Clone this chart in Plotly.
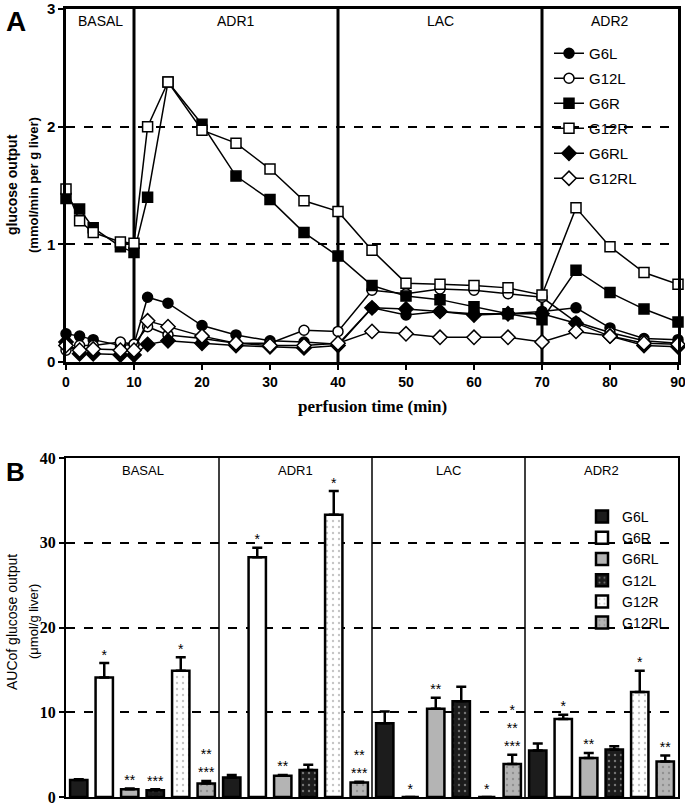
import plotly.graph_objects as go

# ---------------- Panel A data ----------------
times = [0, 2, 4, 8, 10, 12, 15, 20, 25, 30, 35, 40, 45, 50, 55, 60, 65, 70, 75, 80, 85, 90]
G6L = [0.24, 0.22, 0.19, 0.14, 0.15, 0.55, 0.50, 0.31, 0.23, 0.18, 0.17, 0.15, 0.46, 0.40, 0.43, 0.41, 0.41, 0.43, 0.46, 0.29, 0.20, 0.19]
G12L = [0.10, 0.14, 0.14, 0.17, 0.15, 0.30, 0.23, 0.20, 0.16, 0.16, 0.27, 0.26, 0.61, 0.58, 0.62, 0.61, 0.58, 0.55, 0.34, 0.25, 0.18, 0.16]
G6R = [1.39, 1.30, 1.14, 0.98, 0.93, 1.40, 2.38, 2.02, 1.58, 1.38, 1.10, 0.90, 0.65, 0.56, 0.53, 0.47, 0.41, 0.36, 0.78, 0.59, 0.45, 0.34]
G12R = [1.47, 1.20, 1.10, 1.02, 1.01, 2.00, 2.38, 1.97, 1.86, 1.64, 1.37, 1.28, 0.95, 0.67, 0.66, 0.65, 0.63, 0.57, 1.31, 0.98, 0.76, 0.66]
G6RL = [0.17, 0.07, 0.07, 0.06, 0.06, 0.15, 0.18, 0.16, 0.14, 0.13, 0.12, 0.14, 0.46, 0.45, 0.43, 0.40, 0.41, 0.41, 0.33, 0.22, 0.14, 0.13]
G12RL = [0.14, 0.10, 0.11, 0.10, 0.10, 0.35, 0.30, 0.22, 0.16, 0.14, 0.14, 0.16, 0.26, 0.24, 0.21, 0.21, 0.21, 0.17, 0.26, 0.22, 0.16, 0.15]
phase_bounds = [10, 40, 70]
phase_names = ["BASAL", "ADR1", "LAC", "ADR2"]
phase_centers = [5, 25, 55, 80]
x_ticks_A = [0, 10, 20, 30, 40, 50, 60, 70, 80, 90]
y_ticks_A = [0, 1, 2, 3]

# ---------------- Panel B data ----------------
sections = ["BASAL", "ADR1", "LAC", "ADR2"]
groups_B = ["G6L", "G6R", "G6RL", "G12L", "G12R", "G12RL"]
auc_G6L = [2.0, 2.3, 8.7, 5.5]
err_G6L = [0.1, 0.3, 1.4, 0.8]
auc_G6R = [14.1, 28.3, 0, 9.2]
err_G6R = [1.7, 1.1, None, 0.5]
auc_G6RL = [0.9, 2.5, 10.4, 4.6]
err_G6RL = [0.1, 0.1, 1.3, 0.6]
auc_G12L = [0.8, 3.2, 11.3, 5.6]
err_G12L = [0.1, 0.6, 1.7, 0.4]
auc_G12R = [14.9, 33.3, 0, 12.4]
err_G12R = [1.6, 2.8, None, 2.5]
auc_G12RL = [1.6, 1.7, 3.9, 4.2]
err_G12RL = [0.3, 0.1, 1.1, 0.7]
stars_G6L = ["", "", "", ""]
stars_G6R = ["*", "*", "*", "*"]
stars_G6RL = ["**", "**", "**", "**"]
stars_G12L = ["***", "", "", ""]
stars_G12R = ["*", "*", "*", "*"]
stars_G12RL = ["**<br>***", "**<br>***", "*<br>**<br>***", "**"]
y_ticks_B = [0, 10, 20, 30, 40]

SANS = "Liberation Sans"
SERIF = "Liberation Serif"

fig = go.Figure()

# ---------- Panel A traces ----------
series_A = [
    ("G6L", G6L, "circle", "black"),
    ("G12L", G12L, "circle", "white"),
    ("G6R", G6R, "square", "black"),
    ("G12R", G12R, "square", "white"),
    ("G6RL", G6RL, "diamond", "black"),
    ("G12RL", G12RL, "diamond", "white"),
]
for name, vals, sym, fill in series_A:
    fig.add_trace(go.Scatter(
        x=times, y=vals, name=name, mode="lines+markers", legendgroup=name,
        line=dict(color="black", width=1.5),
        marker=dict(symbol=sym, size=10 if sym != "diamond" else 11, color=fill,
                    line=dict(color="black", width=1.5)),
        cliponaxis=False, xaxis="x", yaxis="y", legend="legend",
    ))

# ---------- Panel B traces ----------
bar_specs = [
    ("G6L", auc_G6L, err_G6L, stars_G6L, "#1c1c1c", None),
    ("G6R", auc_G6R, err_G6R, stars_G6R, "white", None),
    ("G6RL", auc_G6RL, err_G6RL, stars_G6RL, "#b4b4b4", None),
    ("G12L", auc_G12L, err_G12L, stars_G12L, "#1c1c1c", "#d0d0d0"),
    ("G12R", auc_G12R, err_G12R, stars_G12R, "white", "#8a8a8a"),
    ("G12RL", auc_G12RL, err_G12RL, stars_G12RL, "#b4b4b4", "#6a6a6a"),
]
ng = len(groups_B)
for gi, (name, vals, errs, stars, fill, dotc) in enumerate(bar_specs):
    xs = [si * ng + gi for si in range(len(sections))]
    pattern = dict(shape="")
    if dotc is not None:
        pattern = dict(shape=".", fgcolor=dotc, bgcolor=fill, size=6, solidity=0.12)
    fig.add_trace(go.Bar(
        x=xs, y=vals, name=name, width=0.68,
        marker=dict(color=fill, line=dict(color="black", width=2.5), pattern=pattern),
        error_y=dict(type="data", symmetric=False, array=errs,
                     arrayminus=[0] * len(vals), color="black", thickness=2.5, width=5),
        xaxis="x2", yaxis="y2", legend="legend2",
    ))
    star_y = [v + (e if e is not None else 0) for v, e in zip(vals, errs)]
    fig.add_trace(go.Scatter(
        x=xs, y=star_y, text=stars, mode="text", textposition="top center",
        textfont=dict(family=SANS, size=14, color="black"),
        showlegend=False, cliponaxis=False, xaxis="x2", yaxis="y2", hoverinfo="skip",
    ))

# ---------- Layout ----------
L, R, T, B = 66, 7, 9, 10
W, H = 685, 807
ph = H - T - B


def fy(py):
    return (H - B - py) / ph


def fx(px):
    return (px - L) / (W - L - R)


dom_A = [fy(362), 1.0]
dom_B = [0.0, fy(458)]

shapes = []
for b in phase_bounds:
    shapes.append(dict(type="line", xref="x", yref="y", x0=b, x1=b, y0=0, y1=3,
                       line=dict(color="black", width=3), layer="below"))
for k in range(1, len(sections)):
    xb = k * ng - 0.5
    shapes.append(dict(type="line", xref="x2", yref="y2", x0=xb, x1=xb, y0=0, y1=40,
                       line=dict(color="black", width=1.5), layer="below"))


def ann(text, x, y, size, family=SANS, xref="paper", angle=0):
    return dict(text=text, x=x, y=y, xref=xref, yref="paper", showarrow=False,
                xanchor="center", yanchor="middle", textangle=angle,
                font=dict(family=family, size=size, color="black"))


annotations = []
for nm, c in zip(phase_names, phase_centers):
    annotations.append(ann(nm, c, fy(21), 14, xref="x"))
for si, nm in enumerate(sections):
    annotations.append(ann(nm, si * ng + 2.5, fy(470), 13, xref="x2"))
annotations += [
    ann("<b>A</b>", fx(16), fy(21), 28),
    ann("<b>B</b>", fx(15), fy(472), 26),
    ann("<b>glucose output</b>", fx(12), fy(185), 14, angle=-90),
    ann("<b>(mmol/min per g liver)</b>", fx(33), fy(185), 13, angle=-90),
    ann("<b>perfusion time (min)</b>", fx(372), fy(406), 17, family=SERIF),
    ann("AUCof glucose output", fx(12), fy(622), 14, angle=-90),
    ann("(\u03bcmol/g liver)", fx(33), fy(622), 13, angle=-90),
]

fig.update_layout(
    width=W, height=H, margin=dict(l=L, r=R, t=T, b=B, autoexpand=False),
    paper_bgcolor="white", plot_bgcolor="white",
    barmode="overlay",
    xaxis=dict(domain=[0, 1], range=[0, 90], anchor="y", tickvals=x_ticks_A,
               ticks="outside", ticklen=5, tickwidth=2, tickcolor="black",
               showline=True, linecolor="black", linewidth=2.5, mirror=True,
               showgrid=False, zeroline=False, automargin=False,
               ticklabeloverflow="allow",
               tickfont=dict(family=SANS, size=14, color="black", weight="bold")),
    yaxis=dict(domain=dom_A, range=[0, 3], anchor="x", tickvals=y_ticks_A,
               ticks="outside", ticklen=5, tickwidth=2, tickcolor="black",
               showline=True, linecolor="black", linewidth=2.5, mirror=True,
               showgrid=True, gridcolor="black", gridwidth=1.5, griddash="dash",
               zeroline=False, automargin=False, ticklabeloverflow="allow",
               tickfont=dict(family=SANS, size=15, color="black", weight="bold")),
    xaxis2=dict(domain=[0, 1], range=[-0.5, 23.5], anchor="y2", showticklabels=False,
                ticks="", showline=True, linecolor="black", linewidth=2, mirror=True,
                showgrid=False, zeroline=False, automargin=False),
    yaxis2=dict(domain=dom_B, range=[0, 40], anchor="x2", tickvals=y_ticks_B,
                ticks="outside", ticklen=5, tickwidth=2, tickcolor="black",
                showline=True, linecolor="black", linewidth=2, mirror=True,
                showgrid=True, gridcolor="black", gridwidth=1.5, griddash="dash",
                zeroline=False, automargin=False, ticklabeloverflow="allow",
                tickfont=dict(family=SERIF, size=16, color="black", weight="bold")),
    legend=dict(x=fx(549), y=fy(37), xanchor="left", yanchor="top",
                bgcolor="rgba(0,0,0,0)", font=dict(family=SANS, size=15, color="black"),
                tracegroupgap=2.5, itemwidth=30),
    legend2=dict(x=fx(582), y=fy(501), xanchor="left", yanchor="top",
                 bgcolor="rgba(0,0,0,0)", font=dict(family=SANS, size=14, color="black"),
                 tracegroupgap=0),
    shapes=shapes, annotations=annotations,
    showlegend=True,
)

fig.write_html("out.html", config={"displayModeBar": False},
               post_script="document.body.style.margin='0';")
